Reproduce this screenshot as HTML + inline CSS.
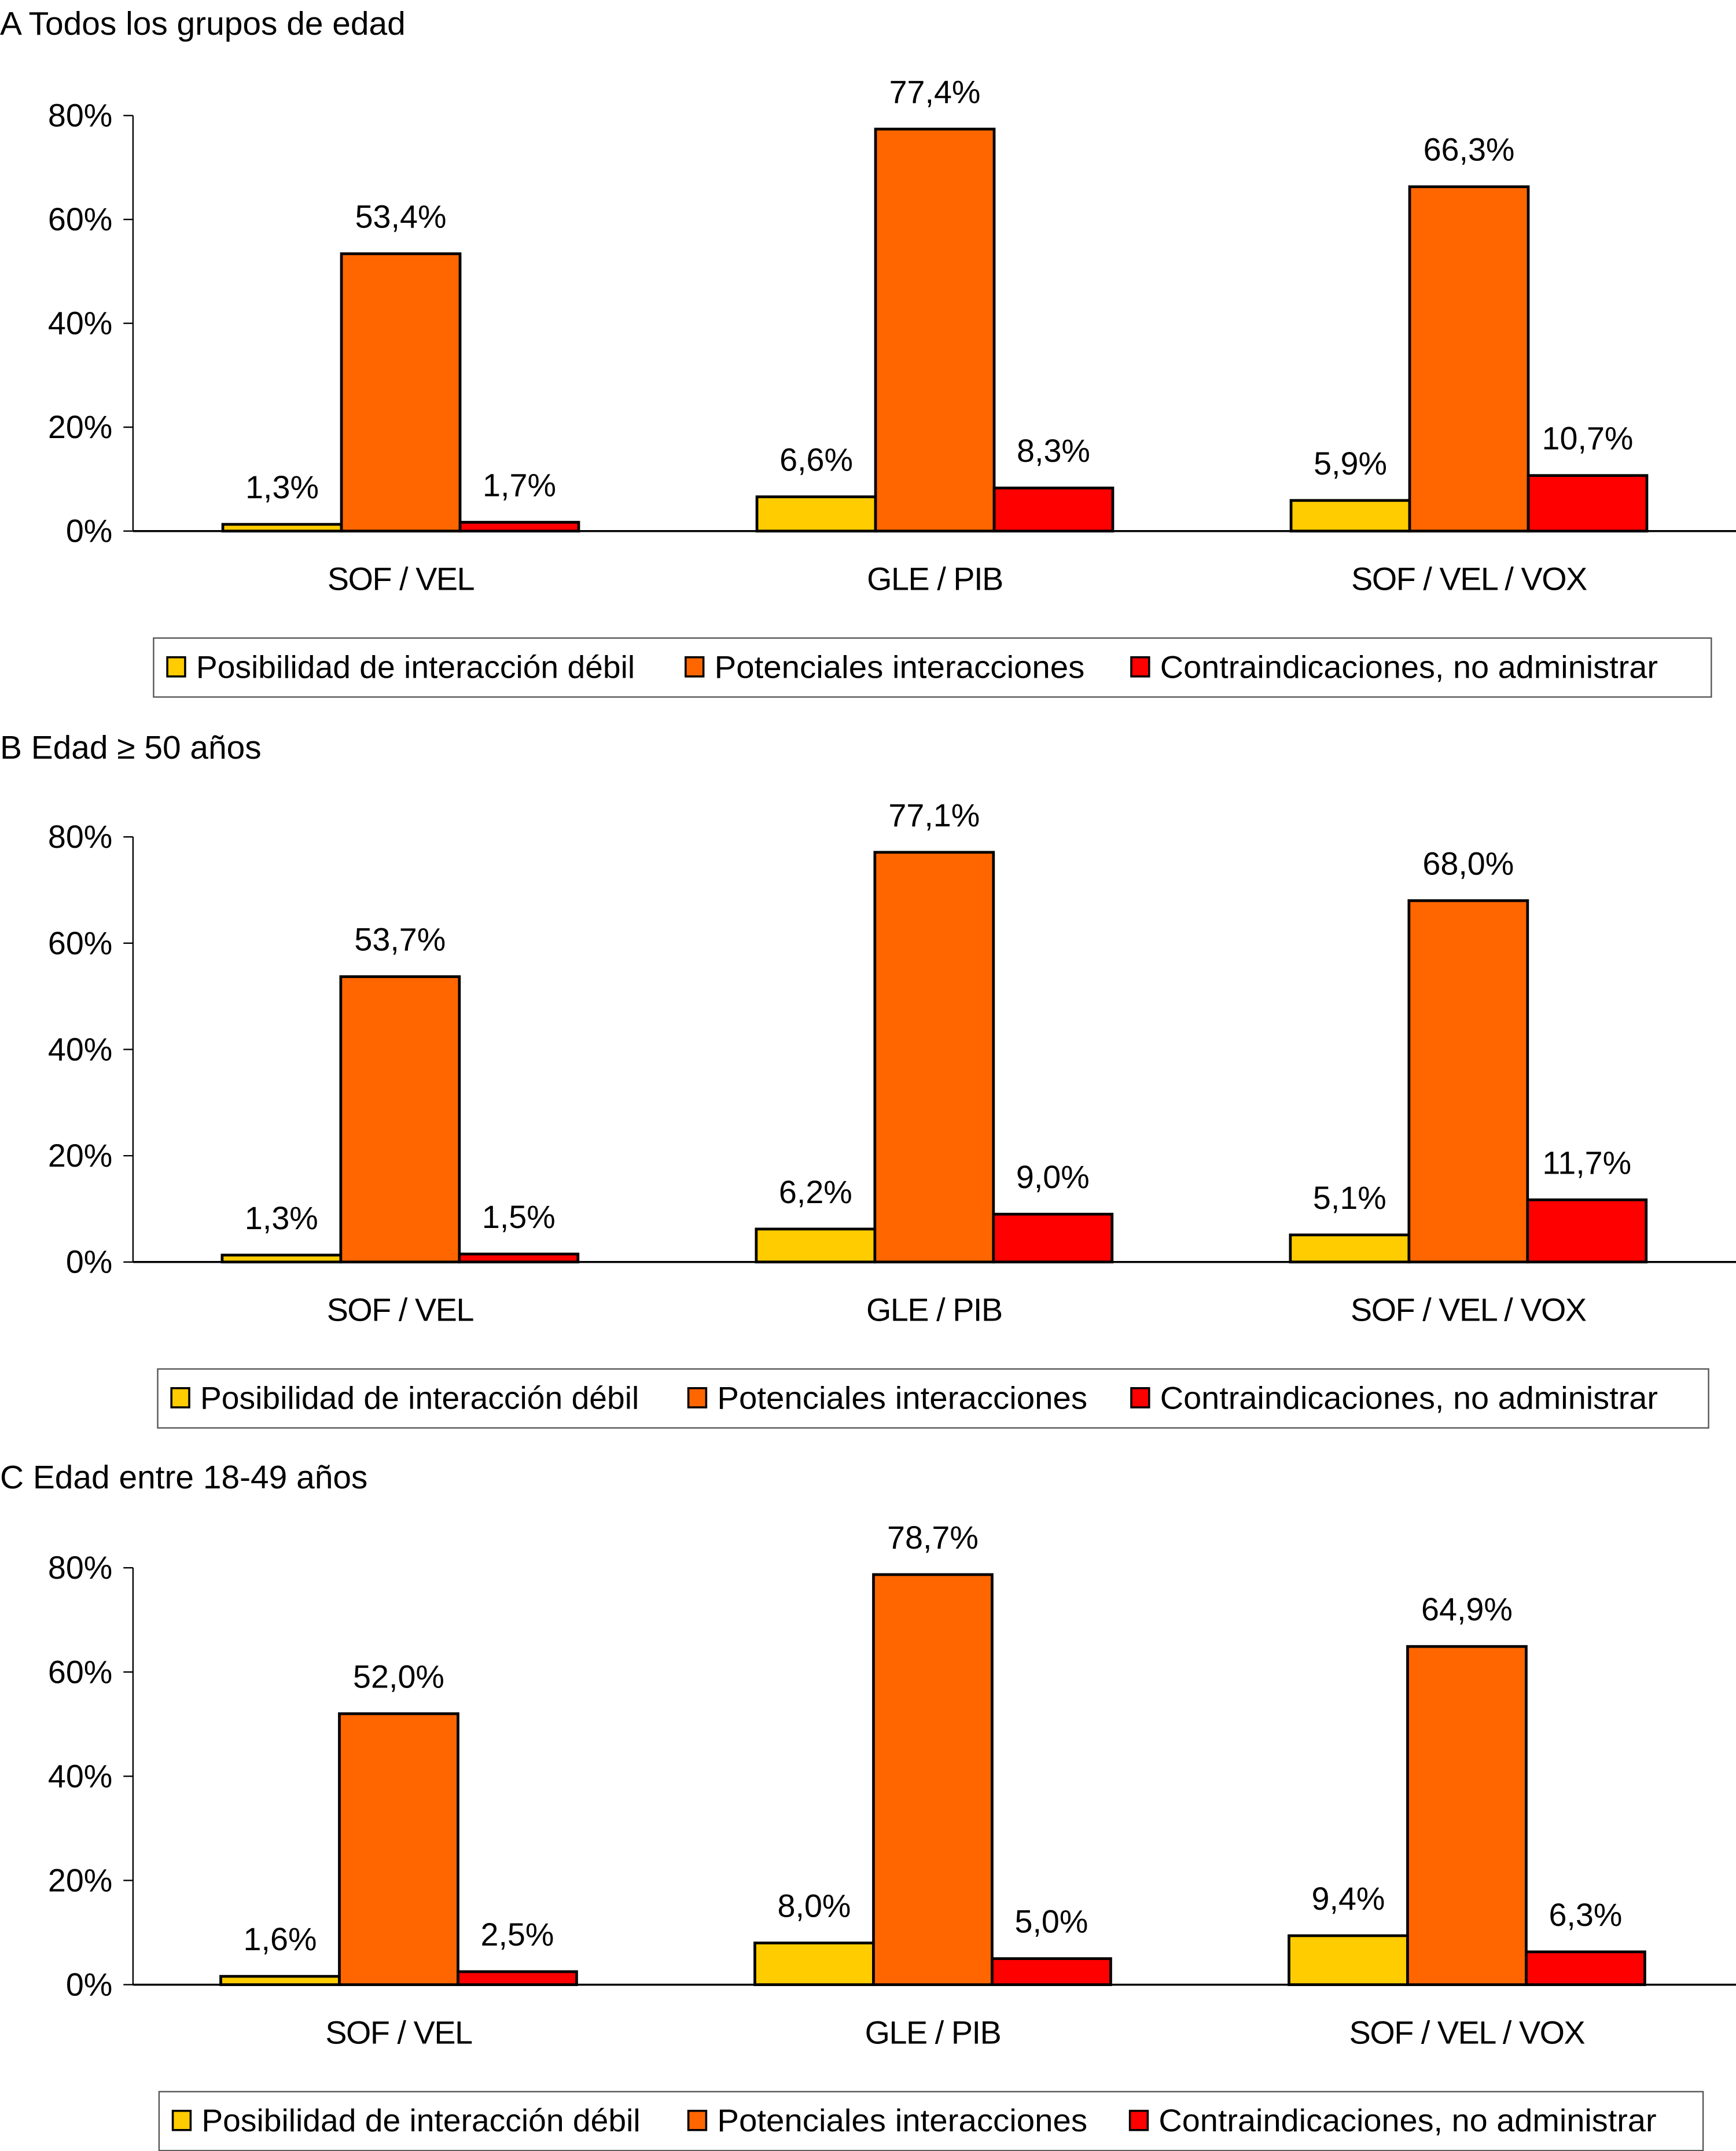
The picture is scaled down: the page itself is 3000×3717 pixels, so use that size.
<!DOCTYPE html>
<html><head><meta charset="utf-8">
<style>
html,body{margin:0;padding:0;background:#fff;}
svg{display:block;font-family:"Liberation Sans",Arial,sans-serif;}
</style></head>
<body>
<svg id="chart" width="3000" height="3717" viewBox="0 0 1266 1568" xmlns="http://www.w3.org/2000/svg"></svg>
<script>
const categories = ["SOF / VEL", "GLE / PIB", "SOF / VEL / VOX"];
const seriesNames = ["Posibilidad de interacción débil", "Potenciales interacciones", "Contraindicaciones, no administrar"];
const yTicks = [0, 20, 40, 60, 80];
const panelTitles = ["Todos los grupos de edad", "Edad \u2265 50 años", "Edad entre 18-49 años"];
const panelLetters = ["A", "B", "C"];
const weakA = [1.3, 6.6, 5.9];
const potA = [53.4, 77.4, 66.3];
const contraA = [1.7, 8.3, 10.7];
const weakB = [1.3, 6.2, 5.1];
const potB = [53.7, 77.1, 68.0];
const contraB = [1.5, 9.0, 11.7];
const weakC = [1.6, 8.0, 9.4];
const potC = [52.0, 78.7, 64.9];
const contraC = [2.5, 5.0, 6.3];

const colors = ["#FFCC00", "#FF6600", "#FF0000"];
const panels = [
  {series:[weakA,potA,contraA], y0:387, y80:84, titleY:17, legY:465, legX:112, legW:1136, firstBar:162.5, legendX:[122,500,825]},
  {series:[weakB,potB,contraB], y0:920, y80:610, titleY:545, legY:998, legX:115, legW:1131, firstBar:162, legendX:[125,502,825]},
  {series:[weakC,potC,contraC], y0:1447, y80:1143, titleY:1077, legY:1525, legX:116, legW:1126, firstBar:161, legendX:[126,502,824]}
];
const NS = "http://www.w3.org/2000/svg";
const svg = document.getElementById("chart");
function mk(tag, attrs, parent){
  const e = document.createElementNS(NS, tag);
  for (const k in attrs) e.setAttribute(k, attrs[k]);
  (parent||svg).appendChild(e);
  return e;
}
function fmt(v){ return v.toFixed(1).replace(".", ",") + "%"; }
const barW = 86.5, groupStep = 389.5, axisX = 97;

panels.forEach((p, pi) => {
  const g = mk("g", {});
  
  
  const yScale = v => p.y0 - (v / 80) * (p.y0 - p.y80);
  const xScale = (ci, si) => p.firstBar + ci * groupStep + si * barW;

  const t = mk("text", {x:0, y:p.titleY+8, "font-size":24}, g);
  
  
  t.textContent = panelLetters[pi] + (pi===1 ? "  " : " ") + panelTitles[pi];

  const ya = mk("line", {x1:axisX, y1:p.y80, x2:axisX, y2:p.y0, stroke:"#000", "stroke-width":1}, g);
  
  
  yTicks.forEach(v => {
    const y = yScale(v);
    const tk = mk("line", {x1:90, y1:y, x2:axisX, y2:y, stroke:"#000", "stroke-width":1}, g);
    
    
    const tl = mk("text", {x:82, y:y+8, "font-size":23.5, "text-anchor":"end"}, g);
    
    
    tl.textContent = v + "%";
  });

  p.series.forEach((vals, si) => {
    vals.forEach((v, ci) => {
      const x = xScale(ci, si), y = yScale(v);
      const r = mk("rect", {x:x, y:y, width:barW, height:p.y0 - y, fill:colors[si], stroke:"#000", "stroke-width":2}, g);
      
      
      const lb = mk("text", {x:x + barW/2, y:y - 19, "font-size":23.5, "text-anchor":"middle"}, g);
      
      
      lb.textContent = fmt(v);
    });
  });

  const xa = mk("line", {x1:axisX, y1:p.y0, x2:1266, y2:p.y0, stroke:"#000", "stroke-width":1.5}, g);
  
  
  categories.forEach((c, ci) => {
    const cl = mk("text", {x:xScale(ci, 1.5), y:p.y0 + 43, "font-size":23.5, "text-anchor":"middle", "letter-spacing":-0.6}, g);
    
    
    cl.textContent = c;
  });

  const lg = mk("g", {}, g);
  
  
  const lr = mk("rect", {x:p.legX, y:p.legY, width:p.legW, height:43, fill:"#fff", stroke:"#555", "stroke-width":1}, lg);
  
  
  const tw = [320, 270, 363];
  seriesNames.forEach((n, si) => {
    const lx = p.legendX[si];
    const sq = mk("rect", {x:lx, y:p.legY+14, width:13, height:14, fill:colors[si], stroke:"#000", "stroke-width":1.5}, lg);
    
    
    const lt = mk("text", {x:lx+21, y:p.legY+29, "font-size":23, textLength:tw[si], lengthAdjust:"spacingAndGlyphs"}, lg);
    
    
    lt.textContent = n;
  });
});
</script>
</body></html>
